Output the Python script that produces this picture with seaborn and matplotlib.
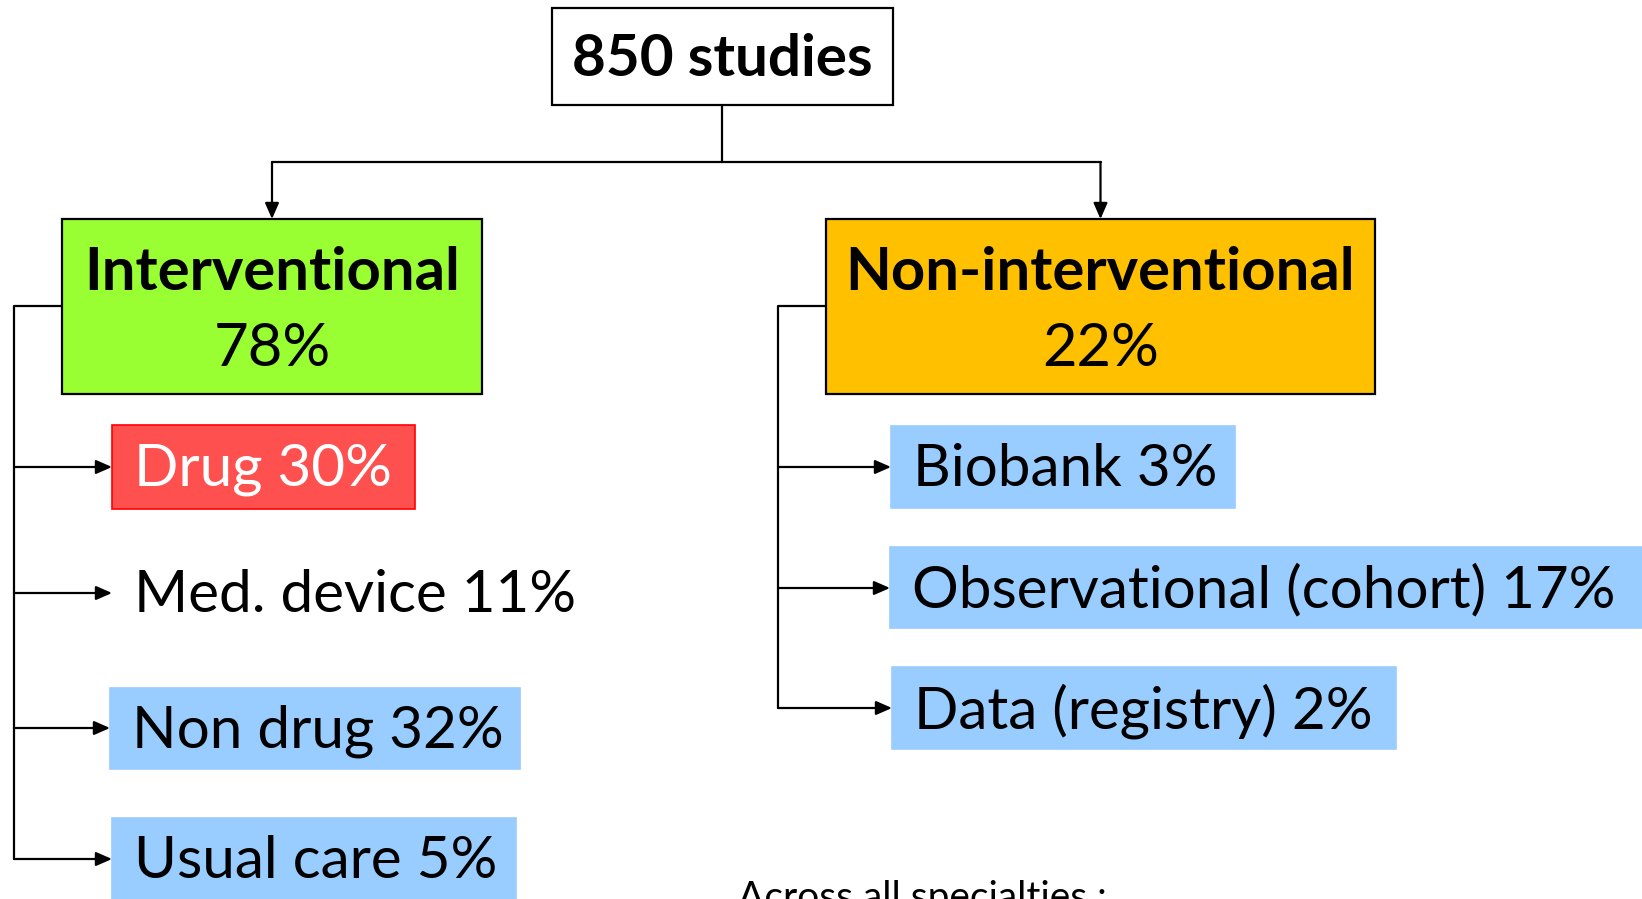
import matplotlib
matplotlib.use("Agg")
import matplotlib.pyplot as plt
import matplotlib.patches as mpatches
import seaborn as sns

# data
total_studies = 850
group_names = ["Interventional", "Non-interventional"]
group_pct = [78, 22]
int_types = ["Drug", "Med. device", "Non drug", "Usual care"]
int_pct = [30, 11, 32, 5]
nonint_types = ["Biobank", "Observational (cohort)", "Data (registry)"]
nonint_pct = [3, 17, 2]
footnote = "Across all specialties :"

# layout (pixels, y down)
W, H = 1642, 899
FONT = "Lato"
LINE = "black"
LW = 1.6
COL = {
    "green": "#99FF33",
    "orange": "#FFC000",
    "red": "#FF5050",
    "blue": "#99CCFF",
}
top_box = (552, 8, 893, 105)
group_boxes = [(62, 219, 482, 394), (826, 219, 1375, 394)]
group_colors = [COL["green"], COL["orange"]]
bracket_x = [14, 778]
bracket_y = 306
int_rows = [
    # (box or None, arrow y)
    ((112, 425, 415, 509), 467),
    (None, 593),
    ((110, 688, 520, 769), 728),
    ((112, 818, 516, 899), 859),
]
int_styles = [("red", "white"), (None, "black"), ("blue", "black"), ("blue", "black")]
nonint_rows = [
    ((891, 426, 1235, 508), 467),
    ((890, 547, 1642, 628), 588),
    ((892, 667, 1396, 749), 708),
]

sns.set_theme(style="white")
plt.rcParams["font.family"] = [FONT, "DejaVu Sans"]

fig = plt.figure(figsize=(W / 100, H / 100), dpi=100)
ax = fig.add_axes([0, 0, 1, 1])
ax.set_xlim(0, W)
ax.set_ylim(H, 0)
ax.axis("off")


def box(b, face, edge="black", lw=LW):
    x0, y0, x1, y1 = b
    ax.add_patch(mpatches.Rectangle((x0, y0), x1 - x0, y1 - y0,
                                    facecolor=face, edgecolor=edge,
                                    linewidth=lw, zorder=2))


def arrow(x0, y0, x1, y1):
    ax.annotate("", xy=(x1, y1), xytext=(x0, y0),
                arrowprops=dict(arrowstyle="-|>,head_length=0.8,head_width=0.35",
                                color=LINE, lw=LW, shrinkA=0, shrinkB=0),
                zorder=3)


# top node
box(top_box, "white")
cx = (top_box[0] + top_box[2]) / 2
ax.text(cx, (top_box[1] + top_box[3]) / 2 + 3, f"{total_studies} studies",
        ha="center", va="center", fontsize=42, fontweight="bold", color="black")

# connector from top to groups
stem_x = 722
split_y = 162
ax.plot([stem_x, stem_x], [top_box[3], split_y], color=LINE, lw=LW)
gx = [(b[0] + b[2]) / 2 for b in group_boxes]
ax.plot([gx[0], gx[1]], [split_y, split_y], color=LINE, lw=LW)
for x, b in zip(gx, group_boxes):
    arrow(x, split_y, x, b[1])

# group nodes
for b, c, name, p in zip(group_boxes, group_colors, group_names, group_pct):
    box(b, c)
    mx = (b[0] + b[2]) / 2
    ax.text(mx, b[1] + 54, name, ha="center", va="center",
            fontsize=43, fontweight="bold", color="black")
    ax.text(mx, b[1] + 130, f"{p}%", ha="center", va="center",
            fontsize=43, color="black")


def children(parent, bx, rows, styles, names, pcts):
    last_y = rows[-1][1]
    ax.plot([parent[0], bx, bx], [bracket_y, bracket_y, last_y],
            color=LINE, lw=LW)
    for (b, ay), (fc, tc), name, p in zip(rows, styles, names, pcts):
        if b is not None:
            edge = "#FF0000" if fc == "red" else COL[fc]
            box(b, COL[fc], edge=edge, lw=1.2)
            x_end = b[0]
            ty = (b[1] + b[3]) / 2
        else:
            x_end = 112
            ty = ay
        arrow(bx, ay, x_end, ay)
        ax.text(x_end + 22, ty + 3, f"{name} {p}%", ha="left", va="center",
                fontsize=42, color=tc, zorder=4)


children(group_boxes[0], bracket_x[0], int_rows, int_styles, int_types, int_pct)
children(group_boxes[1], bracket_x[1], nonint_rows,
         [("blue", "black")] * len(nonint_rows), nonint_types, nonint_pct)

ax.text(738, 898, footnote, ha="left", va="center", fontsize=28, color="black")

fig.savefig("out.png", dpi=100, facecolor="white")
